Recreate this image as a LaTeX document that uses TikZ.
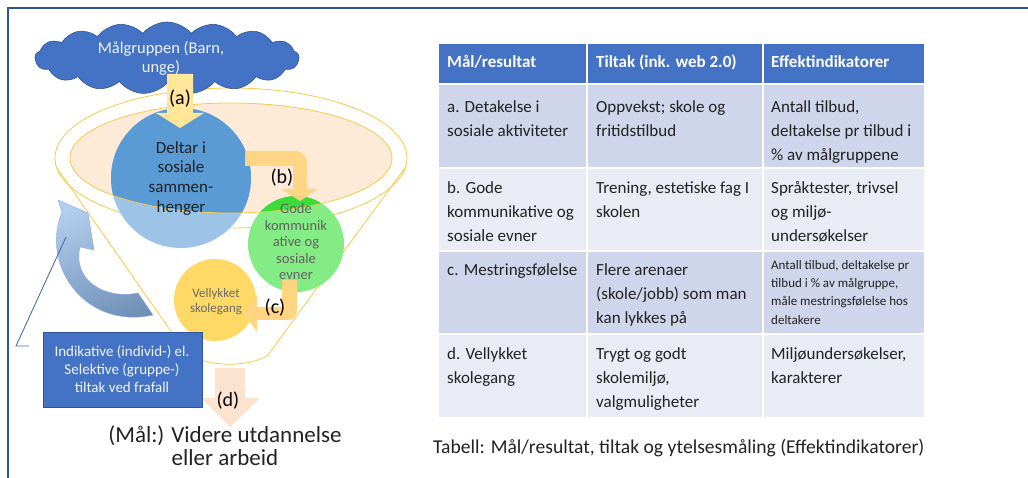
\documentclass[tikz,border=0pt]{standalone}
\usepackage{fontspec}
\setmainfont{Carlito}
\usetikzlibrary{shapes.symbols}
\definecolor{frameblue}{HTML}{2F5597}
\definecolor{hdrblue}{HTML}{4472C4}
\definecolor{rowdark}{HTML}{CFD5EA}
\definecolor{rowlight}{HTML}{E9EBF5}
\definecolor{bluedark}{HTML}{5B9BD5}
\definecolor{bluelight}{HTML}{9DC3E6}
\definecolor{greendark}{HTML}{3ADB3A}
\definecolor{greenlight}{HTML}{84EC84}
\definecolor{yellowc}{HTML}{FFD966}
\definecolor{arrowa}{HTML}{FFE699}
\definecolor{arrowbc}{HTML}{FFD582}
\definecolor{arrowd}{HTML}{FBE3CF}
\definecolor{peach}{HTML}{FDEBD8}
\definecolor{funnelline}{HTML}{F7C948}
\definecolor{carrlight}{HTML}{B3CFEE}
\definecolor{carrdark}{HTML}{6E8FB6}
\definecolor{txtdark}{HTML}{222222}
\begin{document}
\begin{tikzpicture}[x=1pt,y=-1pt,
  tabtxt/.style={anchor=north west, inner sep=0pt, align=left, font=\fontsize{17}{24}\selectfont, text=txtdark},
  smalltxt/.style={anchor=north west, inner sep=0pt, align=left, font=\fontsize{13}{18.3}\selectfont, text=txtdark},
  hdrtxt/.style={anchor=base west, inner sep=0pt, font=\bfseries\fontsize{17}{20}\selectfont, text=white},
  lbl/.style={inner sep=0pt, font=\fontsize{20}{22}\selectfont, text=black},
  thinline/.style={draw=funnelline, line width=0.8pt}]
\useasboundingbox (0,0) rectangle (1028,478);
% frame
\draw[frameblue, line width=1.2pt] (8,478) -- (8,8) -- (1028,8);

% ---------- funnel ----------
\draw[thinline] (231,158) ellipse [x radius=176, y radius=70];
\draw[thinline] (57,168) -- (184,350) .. controls (200,368) and (250,368) .. (268,355) -- (405,168);
\fill[peach] (231,158) ellipse [x radius=161, y radius=55];

% circles
\fill[bluelight] (181,178) circle [radius=70];
\fill[greenlight] (296,244) circle [radius=48];
\begin{scope}
  \clip (231,158) ellipse [x radius=161, y radius=55];
  \fill[bluedark] (181,178) circle [radius=70];
  \fill[greendark] (296,244) circle [radius=48];
\end{scope}
\fill[yellowc] (215,300) circle [radius=41];
\draw[thinline] (231,158) ellipse [x radius=161, y radius=55];

% cloud
\node[cloud, cloud puffs=17, cloud puff arc=100, aspect=3.8, minimum width=264pt, minimum height=72pt,
      fill=hdrblue, draw=frameblue, line width=0.6pt, inner sep=0pt] (cloud) at (167,58) {};
\node[anchor=north, inner sep=0pt, align=center, font=\fontsize{16.5}{19}\selectfont, text=white!92!hdrblue] (cloudtxt) at (161,39.7) {\strut Målgruppen (Barn,\\unge)};

% block arrows
\fill[arrowa] (167,74) -- (193,74) -- (193,113) -- (204,113) -- (180,128) -- (156,113) -- (167,113) -- cycle;
\fill[arrowbc, opacity=0.95] (245,151) -- (295,151) .. controls (302,151) and (307,156) .. (307,163) -- (307,189) -- (318,189) -- (300,201) -- (281,189) -- (293,189) -- (293,166) -- (245,166) -- cycle;
\fill[arrowbc] (282,280) -- (297,280) -- (297,310) .. controls (297,316) and (293,320) .. (287,320) -- (257,320) -- (257,332) -- (244,313.5) -- (257,295) -- (257,307) -- (282,307) -- cycle;
\fill[arrowd] (215,368) -- (245,368) -- (245,398) -- (260,398) -- (230,427) -- (201,398) -- (215,398) -- cycle;

\node[lbl] (la) at (180,99) {(a)};
\node[lbl] (lb) at (282,177.5) {(b)};
\node[lbl] (lc) at (275,307.5) {(c)};
\node[lbl] (ld) at (228,401) {(d)};

% circle texts
\node[anchor=north, inner sep=0pt, align=center, font=\fontsize{17}{19.7}\selectfont, text=txtdark] (bluetxt) at (181,139.2) {\strut Deltar i\\sosiale\\sammen-\\henger};
\node[anchor=north, inner sep=0pt, align=center, font=\fontsize{14.5}{16.5}\selectfont, text=black!62] (greentxt) at (296,202) {\strut Gode\\kommunik\\ative og\\sosiale\\evner};
\node[anchor=north, inner sep=0pt, align=center, font=\fontsize{13}{15.5}\selectfont, text=black!58] (yellowtxt) at (216,286.2) {\strut Vellykket\\skolegang};

% curved blue arrow
\shade[top color=carrlight, bottom color=carrdark, shading angle=20, draw=carrlight!80!blue, line width=0.4pt]
  (58,200) -- (88,213) -- (94,250) -- (80,247) .. controls (72,280) and (105,300) .. (138,293)
  -- (153,315) .. controls (85,330) and (40,265) .. (62,212) -- cycle;

% callout
\node[anchor=north west, minimum width=159pt, minimum height=75pt, inner sep=0pt, fill=hdrblue, draw=frameblue, line width=0.6pt] (callout) at (43,332) {};
\node[anchor=north, inner sep=0pt, align=center, font=\fontsize{15}{18}\selectfont, text=white!92!hdrblue] (callouttxt) at (122,344.1) {\strut Indikative (individ-) el.\\Selektive (gruppe-)\\tiltak ved frafall};
\coordinate (ptr) at (66,237);
\coordinate (knee) at (16,346);
\draw[frameblue!85!white, line width=0.9pt] (ptr) -- (knee) -- (29,346);

% bottom text
\node[anchor=north, inner sep=0pt, align=center, font=\fontsize{23}{23}\selectfont, text=txtdark] (goal) at (225,425.9) {\strut (Mål:) Videre utdannelse\\eller arbeid};

% ---------- table ----------
\fill[hdrblue] (439,44) rectangle (924,84);
\fill[rowdark] (439,84) rectangle (924,168);
\fill[rowlight] (439,168) rectangle (924,251);
\fill[rowdark] (439,251) rectangle (924,334);
\fill[rowlight] (439,334) rectangle (924,417);
\draw[white, line width=2.5pt] (439,84) -- (924,84);
\draw[white, line width=1.6pt] (439,168) -- (924,168) (439,251) -- (924,251) (439,334) -- (924,334);
\draw[white, line width=1.8pt] (587,44) -- (587,417) (763,44) -- (763,417);

\node[hdrtxt] (h1) at (447,67.7) {Mål/resultat};
\node[hdrtxt] (h2) at (596,67.7) {Tiltak (ink. web 2.0)};
\node[hdrtxt] (h3) at (771,67.7) {Effektindikatorer};

\node[tabtxt] (a1) at (447,95.2) {\strut a. Detakelse i\\sosiale aktiviteter};
\node[tabtxt] (a2) at (596,95.2) {\strut Oppvekst; skole og\\fritidstilbud};
\node[tabtxt] (a3) at (771,95.2) {\strut Antall tilbud,\\deltakelse pr tilbud i\\\% av målgruppene};

\node[tabtxt] (b1) at (447,176.2) {\strut b. Gode\\kommunikative og\\sosiale evner};
\node[tabtxt] (b2) at (596,176.2) {\strut Trening, estetiske fag I\\skolen};
\node[tabtxt] (b3) at (771,176.2) {\strut Språktester, trivsel\\og miljø-\\undersøkelser};

\node[tabtxt] (c1) at (447,258.7) {\strut c. Mestringsfølelse};
\node[tabtxt] (c2) at (596,258.7) {\strut Flere arenaer\\(skole/jobb) som man\\kan lykkes på};
\node[smalltxt] (c3) at (771,256.2) {\strut Antall tilbud, deltakelse pr\\tilbud i \% av målgruppe,\\måle mestringsfølelse hos\\deltakere};

\node[tabtxt] (d1) at (447,342.7) {\strut d. Vellykket\\skolegang};
\node[tabtxt] (d2) at (596,342.7) {\strut Trygt og godt\\skolemiljø,\\valgmuligheter};
\node[tabtxt] (d3) at (771,342.7) {\strut Miljøundersøkelser,\\karakterer};

\node[anchor=base west, inner sep=0pt, font=\fontsize{19.6}{22}\selectfont, text=txtdark] (caption) at (433,453) {Tabell: Mål/resultat, tiltak og ytelsesmåling (Effektindikatorer)};
\end{tikzpicture}
\end{document}
